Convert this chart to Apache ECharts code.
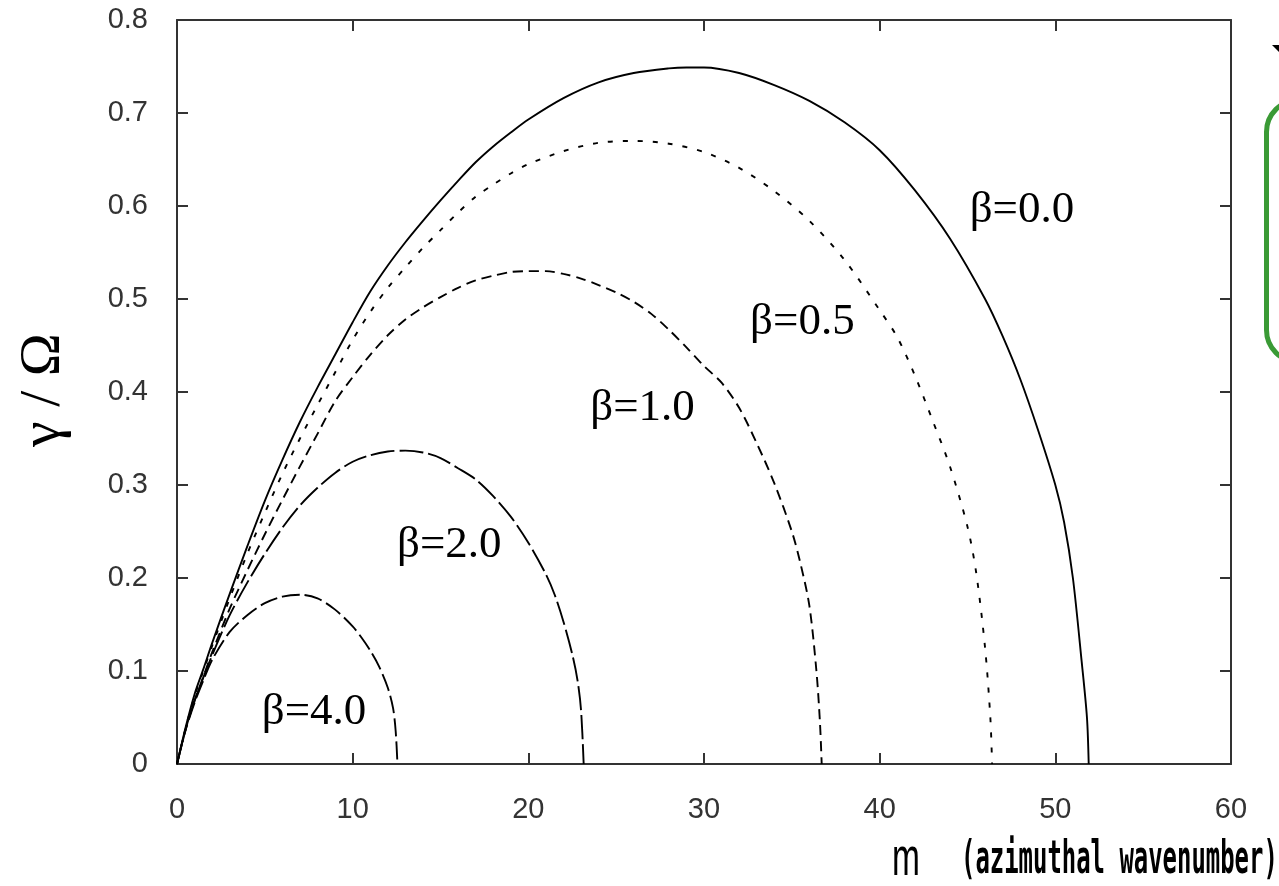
<!DOCTYPE html>
<html>
<head>
<meta charset="utf-8">
<script src="https://cdn.jsdelivr.net/npm/echarts@6/dist/echarts.min.js"></script>
<style>
  html, body { margin: 0; padding: 0; background: #fff; }
  #chart { width: 1279px; height: 886px; }
</style>
</head>
<body>
<div id="chart"></div>
<script>
// Growth rate gamma/Omega versus azimuthal wavenumber m, one curve per beta.
const M_B00 = [0,0.5,1,1.5,2,3,4,5,6,7,8,9,10,11,12,13,14,15,16,17,18,19,20,22,24,26,28,29,30,32,34,36,38,40,42,44,46,47,48,49,50,50.5,51,51.5,51.8,51.9];
const G_B00 = [0,0.04,0.075,0.102,0.13,0.183,0.234,0.283,0.327,0.368,0.405,0.44,0.475,0.508,0.536,0.561,0.584,0.606,0.627,0.647,0.664,0.679,0.693,0.716,0.733,0.743,0.748,0.749,0.749,0.743,0.73,0.713,0.69,0.66,0.617,0.565,0.5,0.46,0.414,0.36,0.3,0.26,0.2,0.11,0.05,0];

const M_B05 = [0,0.5,1,1.5,2,3,4,5,6,7,8,9,10,11,12,13,14,15,16,17,18,19,20,22,24,26,28,30,32,34,36,38,40,41,42,43,44,45,45.5,46,46.3,46.4];
const G_B05 = [0,0.039,0.073,0.1,0.127,0.178,0.226,0.27,0.312,0.35,0.386,0.421,0.456,0.486,0.512,0.534,0.555,0.574,0.593,0.61,0.623,0.635,0.645,0.659,0.668,0.67,0.667,0.658,0.641,0.616,0.584,0.542,0.488,0.459,0.418,0.37,0.32,0.255,0.205,0.125,0.05,0];

const M_B10 = [0,0.5,1,1.5,2,3,4,5,6,7,8,9,10,11,12,13,14,15,16,17,18,19,20,21,22,23,24,25,26,27,28,29,30,31,32,33,34,35,35.5,36,36.4,36.6,36.7];
const G_B10 = [0,0.038,0.068,0.094,0.12,0.167,0.208,0.247,0.284,0.32,0.355,0.39,0.416,0.44,0.461,0.478,0.491,0.502,0.512,0.52,0.525,0.529,0.53,0.53,0.527,0.522,0.515,0.507,0.497,0.484,0.467,0.448,0.428,0.41,0.383,0.345,0.302,0.25,0.215,0.17,0.1,0.045,0];

const M_B20 = [0,0.5,1,1.5,2,3,4,5,6,7,8,9,10,11,12,13,14,15,16,17,18,19,20,21,21.5,22,22.5,22.8,23,23.15];
const G_B20 = [0,0.038,0.068,0.093,0.117,0.16,0.195,0.226,0.254,0.278,0.297,0.313,0.325,0.332,0.336,0.337,0.335,0.329,0.318,0.306,0.288,0.266,0.238,0.204,0.182,0.153,0.118,0.09,0.058,0];

const M_B40 = [0,0.5,1,1.5,2,3,4,5,6,7,8,9,10,10.5,11,11.5,12,12.3,12.45,12.55];
const G_B40 = [0,0.037,0.066,0.09,0.112,0.142,0.16,0.173,0.18,0.182,0.178,0.166,0.148,0.136,0.122,0.105,0.082,0.06,0.035,0];

// Curve labels and where they sit, in data units
const LABEL_TEXT = ['β=0.0', 'β=0.5', 'β=1.0', 'β=2.0', 'β=4.0'];
const LABEL_M = [48.1, 35.6, 26.5, 15.5, 7.8];
const LABEL_G = [0.595, 0.475, 0.383, 0.235, 0.056];

// Axis ticks
const X_MIN = 0, X_MAX = 60, X_STEP = 10;
const Y_MIN = 0, Y_MAX = 0.8, Y_STEP = 0.1;

const zip = (xs, ys) => xs.map((x, i) => [x, ys[i]]);

const frameColor = '#333';
const axisBase = {
  type: 'value',
  splitLine: { show: false },
  axisLine: { show: true, onZero: false, lineStyle: { color: frameColor, width: 2 } },
  axisTick: { show: true, inside: true, length: 11, lineStyle: { color: frameColor, width: 2 } }
};
const tickFont = { fontFamily: '"Liberation Sans", Arial, sans-serif', fontSize: 29, color: '#333' };

function curve(name, ms, gs, dash) {
  return {
    name: name,
    type: 'line',
    data: zip(ms, gs),
    showSymbol: false,
    smooth: 0.3,
    lineStyle: { color: '#000', width: 1.9, type: dash },
    silent: true
  };
}

const chart = echarts.init(document.getElementById('chart'), null, { renderer: 'canvas' });
chart.setOption({
  backgroundColor: '#fff',
  animation: false,
  grid: { left: 177, right: 48, top: 20, bottom: 122, containLabel: false },
  xAxis: [
    Object.assign({}, axisBase, {
      min: X_MIN, max: X_MAX, interval: X_STEP, position: 'bottom',
      axisLabel: Object.assign({ margin: 31 }, tickFont)
    }),
    Object.assign({}, axisBase, {
      min: X_MIN, max: X_MAX, interval: X_STEP, position: 'top',
      axisLabel: { show: false }
    })
  ],
  yAxis: [
    Object.assign({}, axisBase, {
      min: Y_MIN, max: Y_MAX, interval: Y_STEP, position: 'left',
      axisLabel: Object.assign({ margin: 29 }, tickFont)
    }),
    Object.assign({}, axisBase, {
      min: Y_MIN, max: Y_MAX, interval: Y_STEP, position: 'right',
      axisLabel: { show: false }
    })
  ],
  series: [
    curve('β=0.0', M_B00, G_B00, 'solid'),
    curve('β=0.5', M_B05, G_B05, [5, 10]),
    curve('β=1.0', M_B10, G_B10, [10, 6]),
    curve('β=2.0', M_B20, G_B20, [24, 5]),
    curve('β=4.0', M_B40, G_B40, [18, 5]),
    {
      type: 'scatter',
      silent: true,
      symbolSize: 1,
      itemStyle: { color: 'transparent' },
      data: LABEL_TEXT.map((t, i) => [LABEL_M[i], LABEL_G[i], t]),
      label: {
        show: true,
        position: 'inside',
        formatter: p => p.data[2],
        fontFamily: '"Liberation Serif", "Times New Roman", serif',
        fontSize: 45,
        color: '#000',
        textBorderWidth: 0,
        opacity: 1
      }
    }
  ],
  graphic: [
    {
      type: 'text', x: 44, y: 390, rotation: Math.PI / 2, silent: true,
      style: {
        text: 'γ / Ω', font: '58px "Liberation Serif", serif', fill: '#000',
        align: 'center', verticalAlign: 'middle'
      }
    },
    {
      type: 'text', x: 906, y: 860, scaleX: 0.62, silent: true,
      style: {
        text: 'm', font: '54px "Liberation Sans", sans-serif', fill: '#000',
        align: 'center', verticalAlign: 'middle'
      }
    },
    {
      type: 'text', x: 961, y: 861, scaleX: 0.52, silent: true,
      style: {
        text: '(azimuthal wavenumber)', font: 'bold 46px "DejaVu Sans Mono", monospace', fill: '#000',
        align: 'left', verticalAlign: 'middle'
      }
    },
    {
      type: 'rect', silent: true,
      shape: { x: 1266.5, y: 100, width: 70, height: 262, r: 32 },
      style: { fill: 'none', stroke: '#3a9a35', lineWidth: 5 }
    },
    {
      type: 'polygon', silent: true,
      shape: { points: [[1272, 45], [1280, 45], [1280, 53]] },
      style: { fill: '#000' }
    }
  ]
});
</script>
</body>
</html>
